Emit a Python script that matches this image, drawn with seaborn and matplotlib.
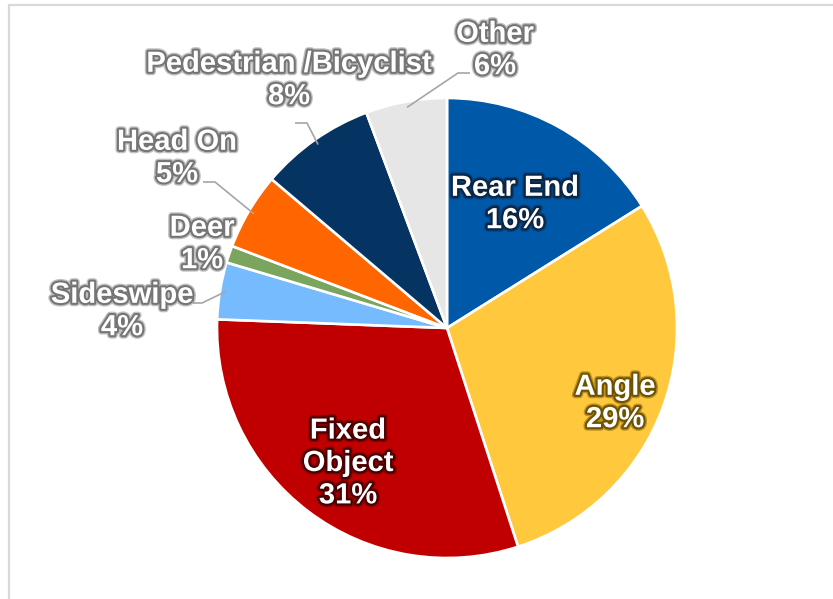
import numpy as np
import matplotlib
matplotlib.use("Agg")
import matplotlib.pyplot as plt
import matplotlib.patheffects as pe
from matplotlib.lines import Line2D
import seaborn as sns

# ---- data ----
categories = ["Rear End", "Angle", "Fixed\nObject", "Sideswipe", "Deer",
              "Head On", "Pedestrian /Bicyclist", "Other"]
shares = [16.1, 28.9, 30.6, 4.0, 1.2, 5.4, 8.1, 5.7]
colors = ["#0058A8", "#FFC83D", "#C00000", "#77BBFF", "#7BA55E",
          "#FF6600", "#053462", "#E6E6E6"]

sns.set_theme(style="white")
plt.rcParams["font.family"] = ["Liberation Sans", "DejaVu Sans"]

W, H, DPI = 833, 599, 100
fig = plt.figure(figsize=(W / DPI, H / DPI), dpi=DPI)
fig.patch.set_facecolor("white")

# pie geometry in pixels
cx, cy, R = 447, 328, 230
ax = fig.add_axes([0, 0, 1, 1])
wedges, _ = ax.pie(shares, colors=colors, startangle=90, counterclock=False,
                   radius=1, center=(0, 0),
                   wedgeprops=dict(edgecolor="white", linewidth=1.9))
ax.set_xlim(-cx / R, (W - cx) / R)
ax.set_ylim(-(H - cy) / R, cy / R)
ax.set_aspect("equal", adjustable="datalim")
ax.axis("off")


def px(x, y):
    return ((x - cx) / R, (cy - y) / R)


# label layout (pixel positions) and stroke colours
layout = {
    0: dict(pos=(515, 204), glow="#0b2545"),
    1: dict(pos=(615, 403), glow="#6e5200"),
    2: dict(pos=(348, 463), glow="#4a0000"),
    3: dict(pos=(122, 311), glow="#757575", lead=[(193, 303), (202, 303)]),
    4: dict(pos=(202, 244), glow="#757575"),
    5: dict(pos=(177, 158), glow="#757575", lead=[(203, 182), (215, 182)]),
    6: dict(pos=(289, 80), glow="#757575", lead=[(295, 123), (307, 123)]),
    7: dict(pos=(495, 50), glow="#757575", lead=[(470, 73), (458, 73)]),
}

total = sum(shares)
for i, (name, val, w) in enumerate(zip(categories, shares, wedges)):
    lay = layout[i]
    pct = 100 * val / total
    tx, ty = px(*lay["pos"])
    ax.text(tx, ty, f"{name}\n{pct:.0f}%", ha="center", va="center",
            multialignment="center", fontsize=21, fontweight="bold",
            color="white", linespacing=1.2,
            path_effects=[pe.withStroke(linewidth=5, foreground=lay["glow"],
                                        alpha=0.45),
                          pe.withStroke(linewidth=3, foreground=lay["glow"])],
            zorder=5)
    if "lead" in lay:
        mid = np.deg2rad((w.theta1 + w.theta2) / 2)
        end = (0.975 * np.cos(mid), 0.975 * np.sin(mid))
        pts = [px(*p) for p in lay["lead"]] + [end]
        xs, ys = zip(*pts)
        ax.plot(xs, ys, color="#a6a6a6", linewidth=1.2, zorder=4,
                solid_capstyle="butt")

# chart frame (top and left edges visible)
fig.add_artist(Line2D([8.5 / W, 8.5 / W], [0, 1 - 4.5 / H],
                      transform=fig.transFigure, color="#d9d9d9", linewidth=1.6))
fig.add_artist(Line2D([8.5 / W, 1], [1 - 4.5 / H, 1 - 4.5 / H],
                      transform=fig.transFigure, color="#d9d9d9", linewidth=1.6))

fig.savefig("out.png", dpi=DPI, facecolor="white")
